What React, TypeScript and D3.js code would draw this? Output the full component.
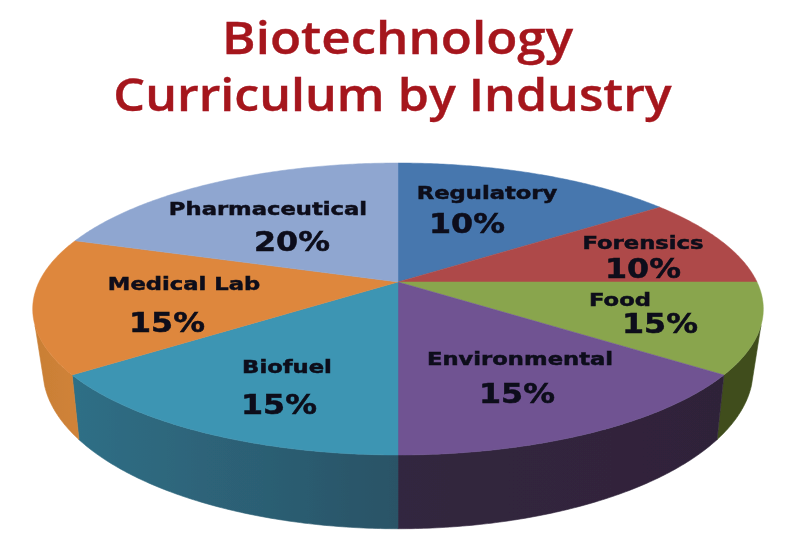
import React from "react";
import * as d3 from "d3";

// Data
const categories = ["Regulatory", "Forensics", "Food", "Environmental", "Biofuel", "Medical Lab", "Pharmaceutical"];
const printedPercents = [10, 10, 15, 15, 15, 15, 20]; // what the labels say
const drawnShares = [15, 10, 10, 15, 15, 15, 20]; // what the slice angles measure
const topColors = ["#4777ae", "#ae4a48", "#89a54e", "#6f5392", "#3d95b3", "#de873d", "#8fa6d0"];
const sideColors = ["#2d4a6e", "#6e2e2d", "#3f4e1c", "#33263f", "#2f6f86", "#c97f35", "#5a6a85"];
const sideColorsDark = ["#2d4a6e", "#6e2e2d", "#3f4e1c", "#2f2339", "#2a5366", "#cf8238", "#5a6a85"];
const titleLines = ["Biotechnology", "Curriculum by Industry"];

// Layout (not data)
const W = 791, H = 548;
const CX = 398, CY = 282;
const topDisc = { dy: 0, rx: 359, ry: 141, k: 0.185 };
const baseDisc = { dy: 56, rx: 348, ry: 152.6, k: 0.2 };
const sideFrom = (107 * Math.PI) / 180, sideTo = (253 * Math.PI) / 180;
const namePos: [number, number][] = [[487, 199], [643, 249], [620, 306], [520, 365], [287, 373], [184, 290], [268, 215]];
const pctPos: [number, number][] = [[467, 233], [643, 278], [660, 333], [517, 403], [279, 414], [167, 332], [292, 251]];

type Disc = typeof topDisc;
// Perspective projection of a unit-circle angle (0 = far side, clockwise)
const project = (d: Disc, a: number): [number, number] => {
  const u = Math.sin(a), v = Math.cos(a), w = 1 + d.k * v;
  return [CX + (d.rx * u) / w, CY + d.dy - (d.ry * v) / w];
};
const arcAngles = (a: number, b: number) => {
  const n = Math.max(2, Math.ceil(Math.abs(b - a) / 0.01));
  return d3.range(n + 1).map((i) => a + ((b - a) * i) / n);
};
const line = d3.line();

export default function App() {
  const arcs = d3.pie<number>().sort(null).value((d) => d)(drawnShares);
  return (
    <svg width={W} height={H} viewBox={`0 0 ${W} ${H}`} style={{ position: "absolute", left: 0, top: 0, background: "#fff" }}>
      <defs>
        <filter id="soft" x="-5%" y="-5%" width="110%" height="110%">
          <feGaussianBlur stdDeviation="0.7" />
        </filter>
        {arcs.map((s, i) => {
          const a = Math.max(s.startAngle, sideFrom), b = Math.min(s.endAngle, sideTo);
          if (b <= a) return null;
          const x0 = project(topDisc, a)[0], x1 = project(topDisc, b)[0];
          return (
            <linearGradient key={i} id={`side${i}`} gradientUnits="userSpaceOnUse" x1={x1} x2={x0} y1={0} y2={0}>
              <stop offset="0" stopColor={sideColors[i]} />
              <stop offset="1" stopColor={sideColorsDark[i]} />
            </linearGradient>
          );
        })}
      </defs>
      <g filter="url(#soft)">
        {arcs.map((s, i) => {
          const a = Math.max(s.startAngle, sideFrom), b = Math.min(s.endAngle, sideTo);
          if (b <= a) return null;
          const angles = arcAngles(a, b);
          const pts = [...angles.map((t) => project(topDisc, t)), ...angles.slice().reverse().map((t) => project(baseDisc, t))];
          return <path key={i} d={line(pts) + "Z"} fill={`url(#side${i})`} stroke={`url(#side${i})`} strokeWidth={0.6} />;
        })}
        {arcs.map((s, i) => {
          const pts: [number, number][] = [[CX, CY], ...arcAngles(s.startAngle, s.endAngle).map((t) => project(topDisc, t))];
          return <path key={i} d={line(pts) + "Z"} fill={topColors[i]} stroke={topColors[i]} strokeWidth={0.5} />;
        })}
        <g fontFamily="'DejaVu Sans', sans-serif" fontWeight="700" fill="#0d0d1a" stroke="#0d0d1a" strokeWidth={0.5} textAnchor="middle">
          {categories.map((c, i) => (
            <text key={c} transform={`translate(${namePos[i][0]},${namePos[i][1]}) scale(1.26,1)`} fontSize={18}>{c}</text>
          ))}
          {printedPercents.map((p, i) => (
            <text key={i} transform={`translate(${pctPos[i][0]},${pctPos[i][1]}) scale(1.22,1)`} fontSize={26}>{p}%</text>
          ))}
        </g>
        <g fontFamily="'Open Sans', sans-serif" fontWeight="600" fill="#a5141c" stroke="#a5141c" strokeWidth={0.4} textAnchor="middle" fontSize={46}>
          <text transform="translate(397.5,54) scale(1.11,1)">{titleLines[0]}</text>
          <text transform="translate(392.5,111) scale(1.09,1)">{titleLines[1]}</text>
        </g>
      </g>
    </svg>
  );
}
